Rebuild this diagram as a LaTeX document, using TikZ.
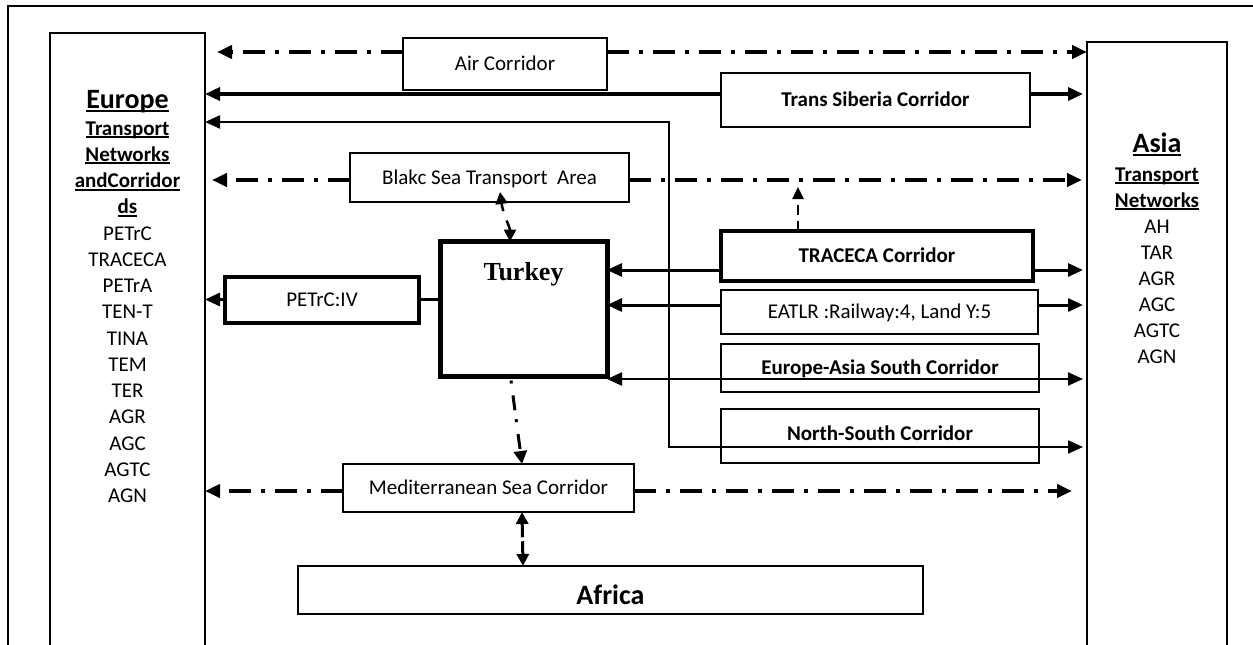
\documentclass[tikz,border=0pt]{standalone}
\usepackage{fontspec}
\setmainfont{Carlito}
\newfontfamily\timesfont{Liberation Serif}
\usetikzlibrary{arrows.meta}
\newsavebox\ulbox
\newcommand{\ulx}[2][-3pt]{\sbox\ulbox{#2}\rlap{\rule[#1]{\wd\ulbox}{1.8pt}}\usebox\ulbox}
\tikzset{
  box/.style={draw, line width=2pt, inner sep=0pt, outer sep=0pt, text height=13.5pt, text depth=0pt, font=\fontsize{21}{25}\selectfont},
  thickbox/.style={box, line width=4pt},
  lst/.style={inner sep=0pt, anchor=base, font=\fontsize{21}{25}\selectfont},
  lstb/.style={lst, font=\fontsize{21}{25}\selectfont\bfseries},
  myarr/.style={-{Triangle[length=15pt,width=13pt]}},
  mydarr/.style={{Triangle[length=15pt,width=13pt]}-{Triangle[length=15pt,width=13pt]}},
  smalldarr/.style={{Triangle[length=12pt,width=12pt]}-{Triangle[length=12pt,width=12pt]}},
  dd/.style={line width=4pt, dash pattern=on 22pt off 10pt on 4pt off 10pt},
}
\begin{document}
\begin{tikzpicture}[x=1pt,y=-1pt]
\useasboundingbox (0,0) rectangle (1253,645);
\clip (0,0) rectangle (1253,645);
\fill[white] (0,0) rectangle (1253,645);
% outer frame
\draw[line width=2pt] (8,660) -- (8,6) -- (1270,6);

% side boxes
\node[box, minimum width=155pt, minimum height=647pt] (Europe) at (127.5,356.5) {};
\node[box, line width=2.5pt, minimum width=140pt, minimum height=638pt] (Asia) at (1157,361) {};

% Europe text
\node[lst, font=\fontsize{28}{30}\selectfont\bfseries] (euH) at (127.5,108) {\ulx[-4pt]{Europe}};
\node[lstb] (eu1) at (127.5,135) {\ulx{Transport}};
\node[lstb] (eu2) at (127.5,161.25) {\ulx{Networks}};
\node[lstb] (eu3) at (127.5,187.5) {\ulx{andCorridor}};
\node[lstb] (eu4) at (127.5,213.75) {\ulx{ds}};
\foreach \t [count=\i from 0] in {PETrC,TRACECA,PETrA,TEN-T,TINA,TEM,TER,AGR,AGC,AGTC,AGN}
  \node[lst] (eul\i) at ({127.5},{240+26.25*\i}) {\t};

% Asia text
\node[lst, font=\fontsize{28}{30}\selectfont\bfseries] (asH) at (1157,152) {\ulx[-4pt]{Asia}};
\node[lstb] (as1) at (1157,181) {\ulx{Transport}};
\node[lstb] (as2) at (1157,207) {\ulx{Networks}};
\foreach \t [count=\i from 0] in {AH,TAR,AGR,AGC,AGTC,AGN}
  \node[lst] (asl\i) at ({1157},{233+26*\i}) {\t};

% corridor boxes
\node[box, minimum width=204pt, minimum height=52pt] (Air) at (505,64) {Air Corridor};
\node[box, minimum width=309pt, minimum height=54pt, font=\fontsize{21}{25}\selectfont\bfseries] (TS) at (875.5,100) {Trans Siberia Corridor};
\node[box, minimum width=279pt, minimum height=49pt] (BS) at (489.5,177.5) {Blakc Sea Transport~~Area};
\node[box, line width=5pt, minimum width=167pt, minimum height=135pt] (Turkey) at (523.5,309) {};
\node[inner sep=0pt, anchor=base, font=\fontsize{26}{30}\selectfont\timesfont\bfseries] (turkeyLbl) at (523.5,280) {Turkey};
\node[thickbox, minimum width=194.5pt, minimum height=46pt] (PE) at (322,299.5) {PETrC:IV};
\node[thickbox, minimum width=312pt, minimum height=50.5pt, font=\fontsize{21}{25}\selectfont\bfseries] (TR) at (877,256) {TRACECA Corridor};
\node[box, line width=2.5pt, minimum width=317pt, minimum height=44pt] (EA) at (879.5,312) {EATLR :Railway:4, Land Y:5};
\node[box, minimum width=318pt, minimum height=48pt, font=\fontsize{21}{25}\selectfont\bfseries] (EAS) at (880,368) {Europe-Asia South Corridor};
\node[box, minimum width=318pt, minimum height=54pt, text depth=5pt, font=\fontsize{21}{25}\selectfont\bfseries] (NS) at (880,436) {North-South Corridor};
\node[box, minimum width=291pt, minimum height=48pt] (Med) at (488.5,488) {Mediterranean Sea Corridor};
\node[box, minimum width=625pt, minimum height=48pt, text height=28pt, font=\fontsize{28}{30}\selectfont\bfseries] (Africa) at (610.5,590) {Africa};

% Air corridor
\coordinate (airL) at ([yshift=12pt]Air.west);
\coordinate (airR) at ([yshift=12pt]Air.east);
\draw[dd, myarr, shorten >=12pt] (airL) -- (airL -| Europe.east);
\draw[dd, myarr] (airR) -- (airR -| Asia.west);

% Trans Siberia
\coordinate (tsL) at ([yshift=6pt]TS.west);
\coordinate (tsR) at ([yshift=6pt]TS.east);
\draw[line width=3.5pt, myarr] (tsL) -- (tsL -| Europe.east);
\draw[line width=3.5pt, myarr, shorten >=4pt] (tsR) -- (tsR -| Asia.west);

% North-South route
\coordinate (turn) at (669,122);
\coordinate (nsL) at ([yshift=-11pt]NS.west);
\draw[line width=2pt, mydarr, shorten >=4pt] (turn -| Europe.east) -- (turn) |- (nsL -| Asia.west);

% Black sea
\coordinate (bsL) at ([yshift=-2.5pt]BS.west);
\coordinate (bsR) at ([yshift=-2.5pt]BS.east);
\draw[dd, myarr, shorten >=7pt] (bsL) -- (bsL -| Europe.east);
\draw[dd, myarr, shorten >=5pt] (bsR) -- (bsR -| Asia.west);

% TRACECA up to black sea line
\coordinate (trUp) at (798,187);
\draw[line width=2.5pt, dash pattern=on 10pt off 6pt, -{Triangle[length=12pt,width=11pt]}] (trUp |- TR.north) -- (trUp);

% Black sea <-> Turkey
\draw[line width=2.5pt, dash pattern=on 8pt off 10pt on 14pt off 2pt, smalldarr] ([xshift=10.5pt,yshift=10pt]BS.south) .. controls +(3,22) and +(0,-14) .. ([xshift=-13.5pt]Turkey.north);

% PETrC
\draw[line width=3pt] (PE.east) -- (PE.east -| Turkey.west);
\draw[line width=3pt, myarr] (PE.west) -- (PE.west -| Europe.east);

% TRACECA
\coordinate (trL) at ([yshift=-14pt]TR.west);
\coordinate (trR) at ([yshift=-14pt]TR.east);
\draw[line width=3pt, myarr] (trL) -- (trL -| Turkey.east);
\draw[line width=3pt, myarr, shorten >=4pt] (trR) -- (trR -| Asia.west);

% EATLR
\coordinate (eaL) at ([yshift=7pt]EA.west);
\coordinate (eaR) at ([yshift=7pt]EA.east);
\draw[line width=3pt, myarr] (eaL) -- (eaL -| Turkey.east);
\draw[line width=3pt, myarr, shorten >=4pt] (eaR) -- (eaR -| Asia.west);

% Europe-Asia South
\coordinate (easL) at ([yshift=-11pt]EAS.west);
\draw[line width=2.3pt, mydarr, shorten >=4pt] (easL -| Turkey.east) -- (easL -| Asia.west);

% Mediterranean
\coordinate (medL) at ([yshift=-3pt]Med.west);
\coordinate (medR) at ([yshift=-3pt]Med.east);
\draw[dd, myarr] (medL) -- (medL -| Europe.east);
\draw[dd, myarr, shorten >=15pt] (medR) -- (medR -| Asia.west);

% Turkey -> Mediterranean
\draw[line width=3pt, dash pattern=on 3pt off 12pt on 15pt off 9pt, -{Triangle[length=13pt,width=13pt]}] ([xshift=-12.5pt,yshift=-4pt]Turkey.south) -- ([xshift=33.5pt]Med.north);

% Mediterranean <-> Africa
\draw[line width=3pt, dash pattern=on 14pt off 4pt, smalldarr] ([xshift=33.5pt]Med.south) -- ([xshift=-87.5pt]Africa.north);
\end{tikzpicture}
\end{document}
